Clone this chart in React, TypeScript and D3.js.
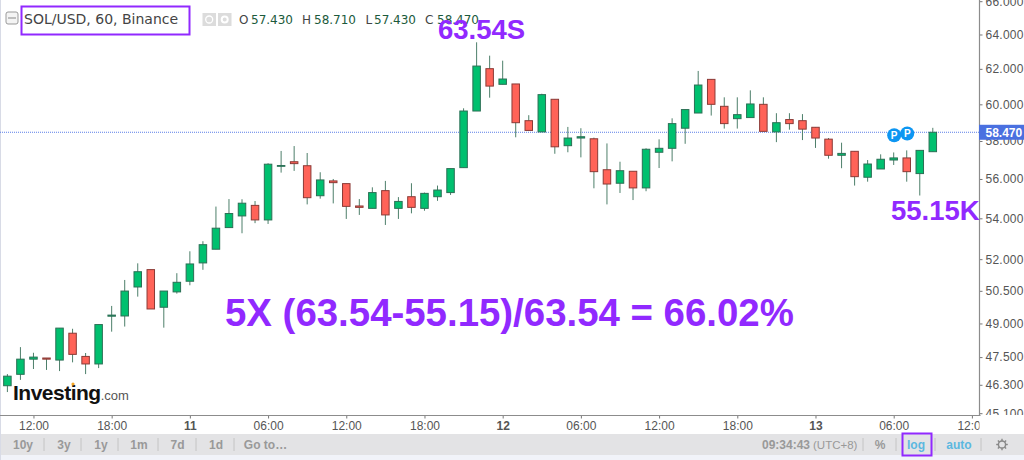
import { useEffect, useRef } from 'react'
import * as d3 from 'd3'

// hourly candles, first one is the 10th at 10:00
const opens = [46.26, 46.75, 47.41, 47.46, 47.37, 48.56, 47.53, 47.20, 49.33, 49.34, 50.68, 51.50, 49.74, 50.45, 50.95, 51.82, 52.48, 53.54, 54.12, 54.65, 53.92, 56.66, 56.90, 56.69, 55.14, 55.90, 55.76, 54.62, 54.50, 55.40, 54.50, 55.09, 54.50, 55.09, 55.30, 56.59, 59.63, 62.01, 61.12, 61.14, 59.10, 58.49, 60.28, 57.75, 58.16, 58.12, 56.48, 55.78, 56.40, 55.54, 57.40, 57.61, 58.69, 59.52, 61.40, 59.89, 59.21, 59.27, 60.00, 58.49, 59.16, 59.10, 58.74, 58.10, 57.24, 57.45, 56.09, 56.52, 56.99, 57.10, 56.28, 57.43]
const highs = [46.76, 47.94, 47.69, 47.46, 48.79, 48.76, 47.68, 48.95, 49.80, 51.01, 51.80, 51.50, 50.49, 51.33, 52.38, 52.87, 54.59, 54.97, 54.96, 54.87, 56.82, 57.47, 57.73, 57.36, 56.35, 56.00, 55.76, 54.97, 55.57, 55.90, 55.07, 55.78, 55.30, 55.66, 56.54, 59.78, 63.54, 62.76, 62.47, 61.14, 59.40, 60.59, 60.28, 58.76, 58.69, 58.18, 57.87, 56.90, 56.40, 57.61, 58.09, 59.23, 59.71, 61.88, 61.40, 60.39, 60.39, 60.78, 60.39, 59.51, 59.51, 59.46, 58.74, 58.16, 57.91, 57.45, 56.99, 57.29, 57.39, 57.50, 57.50, 58.71]
const lows = [45.99, 46.51, 46.98, 46.94, 46.89, 47.27, 46.76, 47.02, 48.63, 48.86, 50.23, 49.66, 48.81, 50.37, 50.76, 51.49, 52.48, 53.54, 53.26, 53.76, 53.72, 56.33, 56.42, 54.70, 54.99, 54.75, 53.97, 54.17, 54.50, 53.67, 53.97, 54.25, 54.38, 54.88, 55.18, 56.59, 59.63, 60.37, 61.12, 58.20, 58.57, 58.49, 57.32, 57.40, 57.13, 55.52, 54.70, 55.28, 54.92, 55.37, 56.57, 56.92, 57.85, 59.52, 59.38, 58.67, 58.67, 59.27, 58.52, 57.94, 58.61, 58.05, 57.63, 57.06, 56.56, 55.66, 55.86, 56.52, 56.73, 55.86, 55.15, 57.43]
const closes = [46.67, 47.41, 47.50, 47.41, 48.79, 47.62, 47.20, 48.95, 49.38, 50.49, 51.40, 49.66, 50.49, 50.90, 51.77, 52.70, 53.51, 54.24, 54.76, 53.92, 56.77, 56.70, 56.80, 55.04, 55.95, 55.81, 54.60, 54.55, 55.30, 54.17, 54.85, 54.55, 55.26, 55.43, 56.54, 59.63, 62.16, 61.02, 61.42, 58.99, 58.57, 60.54, 57.69, 58.16, 58.23, 56.38, 55.74, 56.43, 55.54, 57.56, 57.61, 58.94, 59.71, 61.08, 60.00, 58.94, 59.43, 60.02, 58.52, 58.99, 58.94, 58.64, 58.16, 57.24, 57.34, 56.12, 56.78, 57.03, 57.10, 56.38, 57.50, 58.47]

const priceTicks = [66, 64, 62, 60, 58, 56, 54, 52, 50.5, 49, 47.5, 46.3, 45.1]
const timeTicks = [2, 8, 14, 20, 26, 32, 38, 44, 50, 56, 62, 68, 74]
const timeLabels = ['12:00', '18:00', '11', '06:00', '12:00', '18:00', '12', '06:00', '12:00', '18:00', '13', '06:00', '12:00']
const lastPrice = 58.47
const pivotCandles = [68, 69]
const pivotPrices = [58.31, 58.4]
const rangeButtons = ['10y', '3y', '1y', '1m', '7d', '1d', 'Go to…']

const W = 1024
const H = 460
const plotRight = 979.5
const plotBottom = 415.5
const purple = '#9129ff'
const sans = '"Liberation Sans", Arial, sans-serif'
const ui = '"DejaVu Sans", Verdana, sans-serif'

export default function App() {
  const svgRef = useRef<SVGSVGElement>(null)

  useEffect(() => {
    if (!svgRef.current) return
    const svg = d3.select(svgRef.current)
    svg.selectAll('*').remove()

    const x = d3.scaleLinear().domain([0, 71]).range([7.4, 932.8])
    const y = d3.scaleLog().domain([66, 45.1]).range([1.2, 413.2])

    svg.append('rect').attr('width', W).attr('height', H).attr('fill', '#fff')
    svg.append('rect').attr('width', 1).attr('height', H).attr('fill', '#d8dbe6')

    const defs = svg.append('defs')
    defs.append('clipPath').attr('id', 'time-clip').append('rect').attr('x', 0).attr('y', 416).attr('width', plotRight).attr('height', 18)
    defs.append('clipPath').attr('id', 'price-clip').append('rect').attr('x', plotRight).attr('y', 0).attr('width', 45).attr('height', plotBottom - 0.5)

    // last price line
    svg.append('line')
      .attr('x1', 0).attr('x2', plotRight)
      .attr('y1', y(lastPrice)).attr('y2', y(lastPrice))
      .attr('stroke', '#5b7fe8').attr('stroke-dasharray', '1 1').attr('stroke-width', 1)

    // candles
    const idx = d3.range(opens.length)
    const bodyW = 7.5
    const candles = svg.append('g').selectAll('g').data(idx).join('g')
    candles.append('line')
      .attr('x1', (i) => x(i)).attr('x2', (i) => x(i))
      .attr('y1', (i) => y(highs[i])).attr('y2', (i) => y(lows[i]))
      .attr('stroke', '#4d7f6a').attr('stroke-width', 1)
    candles.append('rect')
      .attr('x', (i) => x(i) - bodyW / 2)
      .attr('width', bodyW)
      .attr('y', (i) => y(Math.max(opens[i], closes[i])))
      .attr('height', (i) => Math.max(0.6, Math.abs(y(opens[i]) - y(closes[i]))))
      .attr('fill', (i) => (closes[i] >= opens[i] ? '#00c06f' : '#ff6358'))
      .attr('stroke', (i) => (closes[i] >= opens[i] ? '#2b6f55' : '#8b3a36'))
      .attr('stroke-width', 1)

    // axes, clip sits on an outer group so it stays in page coordinates
    const timeAxis = d3.axisBottom(x).tickValues(timeTicks).tickSize(3).tickPadding(3)
      .tickFormat((_, i) => timeLabels[i])
    const gx = svg.append('g').attr('clip-path', 'url(#time-clip)')
      .append('g').attr('transform', `translate(0,${plotBottom})`).call(timeAxis)
    gx.select('.domain').remove()
    gx.selectAll('line').attr('stroke', '#777')
    gx.selectAll('text')
      .attr('font-family', sans).attr('font-size', 12).attr('fill', '#555')
      .attr('font-weight', (_, i) => (timeLabels[i].length === 2 ? 700 : 400))
    svg.append('line').attr('x1', 0).attr('x2', plotRight + 1).attr('y1', plotBottom).attr('y2', plotBottom).attr('stroke', '#8c8c8c').attr('stroke-width', 1.2)

    const priceAxis = d3.axisRight(y).tickValues(priceTicks).tickSize(3).tickPadding(3)
      .tickFormat((d) => d3.format('.3f')(d as number))
    const gy = svg.append('g').attr('clip-path', 'url(#price-clip)')
      .append('g').attr('transform', `translate(${plotRight},0)`).call(priceAxis)
    gy.select('.domain').remove()
    gy.selectAll('line').attr('stroke', '#777')
    gy.selectAll('text').attr('font-family', sans).attr('font-size', 12).attr('fill', '#555').attr('letter-spacing', 0.25)
    svg.append('line').attr('x1', plotRight).attr('x2', plotRight).attr('y1', 0).attr('y2', plotBottom).attr('stroke', '#8c8c8c').attr('stroke-width', 1.2)

    // price tag
    svg.append('rect').attr('x', plotRight - 0.5).attr('y', y(lastPrice) - 7.5).attr('width', 45).attr('height', 15).attr('fill', '#4a70e0')
    svg.append('text').attr('x', 985.5).attr('y', y(lastPrice) + 4.5)
      .attr('font-family', sans).attr('font-size', 12).attr('font-weight', 700).attr('fill', '#fff')
      .text(d3.format('.3f')(lastPrice))

    // P markers
    const markers = svg.append('g').selectAll('g').data(pivotCandles).join('g')
      .attr('transform', (d, i) => `translate(${x(d) + 0.5},${y(pivotPrices[i])})`)
    markers.append('circle').attr('r', 7).attr('fill', '#0d96f2')
    markers.append('text').attr('text-anchor', 'middle').attr('y', 3.5)
      .attr('font-family', sans).attr('font-size', 10).attr('font-weight', 700).attr('fill', '#fff').text('P')

    // legend header
    svg.append('rect').attr('x', 6).attr('y', 12).attr('width', 12).attr('height', 12).attr('rx', 2)
      .attr('fill', '#f4f4f4').attr('stroke', '#999')
    svg.append('line').attr('x1', 8).attr('x2', 16).attr('y1', 18).attr('y2', 18).attr('stroke', '#888')
    svg.append('text').attr('x', 24).attr('y', 24)
      .attr('font-family', ui).attr('font-size', 14).attr('fill', '#444').text('SOL/USD, 60, Binance')
    const icons = [202.5, 218]
    icons.forEach((ix, i) => {
      svg.append('rect').attr('x', ix).attr('y', 13).attr('width', 13.5).attr('height', 13).attr('fill', '#dcdcdc')
      svg.append('circle').attr('cx', ix + 6.7).attr('cy', 19.5).attr('r', i === 0 ? 3.5 : 3)
        .attr('fill', 'none').attr('stroke', '#fff').attr('stroke-width', i === 0 ? 1.3 : 2)
    })
    const ohlc: [string, number, number, number][] = [
      ['O', opens[71], 239, 251],
      ['H', highs[71], 302, 314],
      ['L', lows[71], 365.5, 374],
      ['C', closes[71], 425, 437],
    ]
    ohlc.forEach(([k, v, kx, vx]) => {
      svg.append('text').attr('x', kx).attr('y', 24).attr('font-family', ui).attr('font-size', 12).attr('fill', '#444').text(k)
      svg.append('text').attr('x', vx).attr('y', 24).attr('font-family', ui).attr('font-size', 12).attr('fill', '#1c5a3c').text(d3.format('.3f')(v))
    })

    // annotations
    const note = (tx: number, ty: number, size: number, s: string) =>
      svg.append('text').attr('x', tx).attr('y', ty)
        .attr('font-family', sans).attr('font-size', size).attr('font-weight', 700).attr('fill', purple).text(s)
    note(438, 39, 27.5, '63.54S')
    note(891, 220, 27.5, '55.15K')
    note(225, 326, 38.4, '5X (63.54-55.15)/63.54 = 66.02%')
    svg.append('rect').attr('x', 21.5).attr('y', 6.5).attr('width', 168).attr('height', 28)
      .attr('fill', 'none').attr('stroke', purple).attr('stroke-width', 2)

    // watermark
    const wm = svg.append('text').attr('x', 13).attr('y', 400).attr('font-family', sans)
    wm.append('tspan').attr('font-size', 21).attr('font-weight', 700).attr('fill', '#111').attr('letter-spacing', -0.5).text('Investing')
    wm.append('tspan').attr('font-size', 13).attr('fill', '#555').text('.com')
    svg.append('circle').attr('cx', 73).attr('cy', 384).attr('r', 1.6).attr('fill', '#f5a623')

    // bottom toolbar
    svg.append('rect').attr('x', 1).attr('y', 434).attr('width', W).attr('height', 21).attr('fill', '#e3e3e5')
    svg.append('rect').attr('x', 1).attr('y', 455).attr('width', W).attr('height', 5).attr('fill', '#f1f3f9')
    const btnX = [23, 64, 101, 139, 177.5, 216, 265.5]
    rangeButtons.forEach((b, i) => {
      svg.append('text').attr('x', btnX[i]).attr('y', 449).attr('text-anchor', 'middle')
        .attr('font-family', sans).attr('font-size', 12).attr('font-weight', 700).attr('fill', '#999').text(b)
    })
    const seps = [44, 81, 118, 158, 196, 234, 863, 896, 935, 981]
    seps.forEach((sx) => {
      svg.append('line').attr('x1', sx).attr('x2', sx).attr('y1', 438).attr('y2', 451).attr('stroke', '#c4c4c4')
    })
    svg.append('text').attr('x', 762).attr('y', 449).attr('font-family', sans).attr('font-size', 12).attr('font-weight', 700).attr('fill', '#999').text('09:34:43')
    svg.append('text').attr('x', 813).attr('y', 449).attr('font-family', sans).attr('font-size', 11.5).attr('fill', '#999').text('(UTC+8)')
    svg.append('text').attr('x', 880).attr('y', 449).attr('text-anchor', 'middle').attr('font-family', sans).attr('font-size', 12).attr('font-weight', 700).attr('fill', '#999').text('%')
    svg.append('text').attr('x', 916).attr('y', 449).attr('text-anchor', 'middle').attr('font-family', sans).attr('font-size', 12).attr('font-weight', 700).attr('fill', '#5bb8e0').text('log')
    svg.append('text').attr('x', 959).attr('y', 449).attr('text-anchor', 'middle').attr('font-family', sans).attr('font-size', 12).attr('font-weight', 700).attr('fill', '#5bb8e0').text('auto')
    svg.append('rect').attr('x', 902.5).attr('y', 433.5).attr('width', 29).attr('height', 22)
      .attr('fill', 'none').attr('stroke', purple).attr('stroke-width', 2)

    // settings gear
    const gear = svg.append('g').attr('transform', 'translate(1002,444.5)')
    gear.append('circle').attr('r', 3.6).attr('fill', 'none').attr('stroke', '#888').attr('stroke-width', 1.5)
    d3.range(8).forEach((k) => {
      const a = (k * Math.PI) / 4
      gear.append('line')
        .attr('x1', Math.cos(a) * 3.6).attr('y1', Math.sin(a) * 3.6)
        .attr('x2', Math.cos(a) * 5.8).attr('y2', Math.sin(a) * 5.8)
        .attr('stroke', '#888').attr('stroke-width', 1.4)
    })
  }, [])

  return <svg ref={svgRef} width={W} height={H} style={{ position: 'fixed', left: 0, top: 0, display: 'block' }} />
}
